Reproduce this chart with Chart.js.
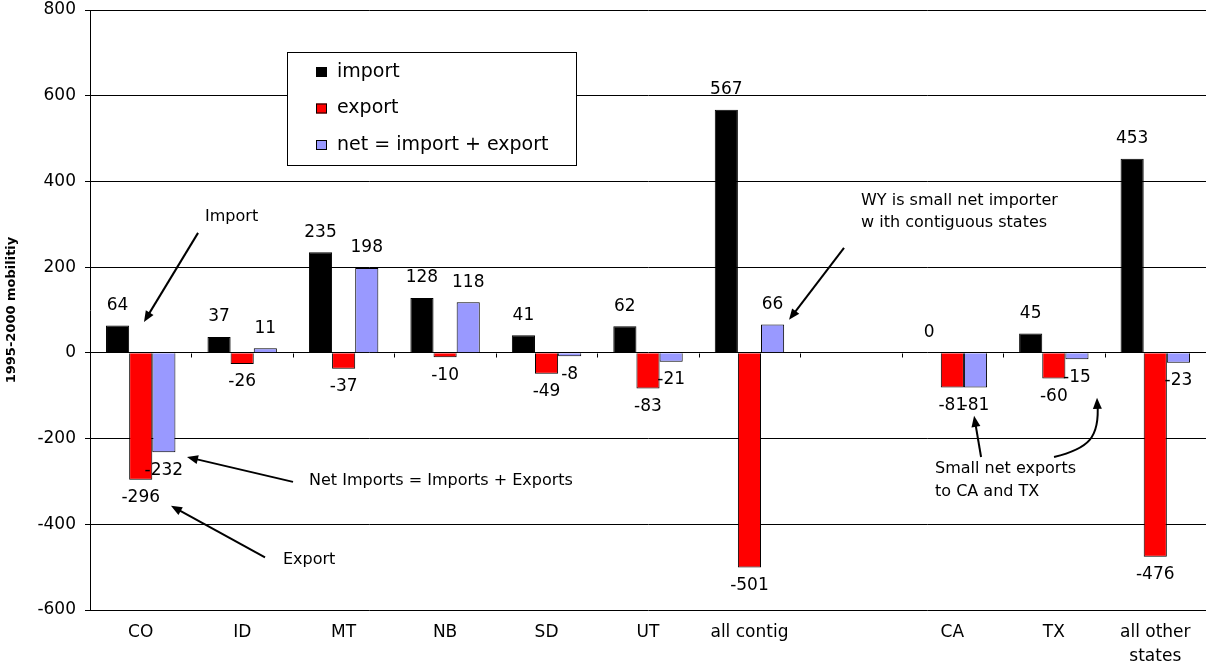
<!DOCTYPE html>
<html>
<head>
<meta charset="utf-8">
<script src="https://cdn.jsdelivr.net/npm/chart.js@4"></script>
<style>
  html, body { margin: 0; padding: 0; background: #fff; }
</style>
</head>
<body>
<canvas id="myChart" width="1207" height="669"></canvas>
<script>
// WY migration 1995-2000, by partner state
const categories = ['CO', 'ID', 'MT', 'NB', 'SD', 'UT', 'all contig', '', 'CA', 'TX', ['all other', 'states']];
const importVals = [64, 37, 235, 128, 41, 62, 567, null, 0, 45, 453];
const exportVals = [-296, -26, -37, -10, -49, -83, -501, null, -81, -60, -476];
const netVals = [-232, 11, 198, 118, -8, -21, 66, null, -81, -15, -23];
const seriesNames = ['import', 'export', 'net = import + export'];
const seriesColors = ['#000000', '#FF0000', '#9999FF'];
const yMin = -600, yMax = 800, yStep = 200;

const FONT = '"DejaVu Sans", sans-serif';
Chart.defaults.font.family = FONT;
Chart.defaults.color = '#000';

function head(ctx, x, y, a) {
  ctx.beginPath();
  ctx.moveTo(x, y);
  ctx.lineTo(x - 11 * Math.cos(a) + 4.5 * Math.sin(a), y - 11 * Math.sin(a) - 4.5 * Math.cos(a));
  ctx.lineTo(x - 11 * Math.cos(a) - 4.5 * Math.sin(a), y - 11 * Math.sin(a) + 4.5 * Math.cos(a));
  ctx.closePath();
  ctx.fill();
}

function arrow(ctx, x1, y1, x2, y2) {
  const a = Math.atan2(y2 - y1, x2 - x1);
  ctx.beginPath();
  ctx.moveTo(x1, y1);
  ctx.lineTo(x2 - 6 * Math.cos(a), y2 - 6 * Math.sin(a));
  ctx.stroke();
  head(ctx, x2, y2, a);
}

const annotate = {
  id: 'annotate',
  afterDatasetsDraw(chart) {
    const ctx = chart.ctx;
    const area = chart.chartArea;
    const ys = chart.scales.y;
    const catW = (area.right - area.left) / categories.length;
    const px = i => area.left + (i + 0.5) * catW;
    const py = v => ys.getPixelForValue(v);

    ctx.save();
    ctx.fillStyle = '#000';
    ctx.strokeStyle = '#000';

    // small ticks under the zero line between categories
    ctx.lineWidth = 1;
    const y0 = Math.round(py(0)) + 0.5;
    for (let k = 1; k < categories.length; k++) {
      const x = Math.round(area.left + k * catW) + 0.5;
      ctx.beginPath();
      ctx.moveTo(x, y0);
      ctx.lineTo(x, y0 + 4);
      ctx.stroke();
    }

    // value labels
    ctx.font = '17px ' + FONT;
    ctx.textAlign = 'center';
    ctx.textBaseline = 'middle';
    chart.data.datasets.forEach((ds, d) => {
      chart.getDatasetMeta(d).data.forEach((bar, k) => {
        const v = ds.data[k];
        if (v === null) return;
        ctx.fillText(String(v), bar.x, v >= 0 ? bar.y - 20 : bar.y + 18);
      });
    });

    // legend box
    const lx = 287, ly = 52, lw = 289, lh = 113;
    ctx.fillStyle = '#fff';
    ctx.fillRect(lx, ly, lw, lh);
    ctx.strokeRect(lx + 0.5, ly + 0.5, lw, lh);
    ctx.font = '19px ' + FONT;
    ctx.textAlign = 'left';
    seriesNames.forEach((name, i) => {
      const ry = 72 + i * 36.5;
      ctx.fillStyle = seriesColors[i];
      ctx.fillRect(316, ry - 5, 11, 10);
      ctx.strokeRect(316.5, ry - 4.5, 10, 9);
      ctx.fillStyle = '#000';
      ctx.fillText(name, 337, ry);
    });

    // notes and arrows
    ctx.font = '16px ' + FONT;
    ctx.lineWidth = 2;
    ctx.fillText('Import', px(0.634), py(318));
    arrow(ctx, px(0.565), py(280), px(0.032), py(72));

    ctx.fillText('Net Imports = Imports + Exports', px(1.659), py(-299));
    arrow(ctx, px(1.501), py(-301), px(0.456), py(-243));

    ctx.fillText('Export', px(1.402), py(-484));
    arrow(ctx, px(1.225), py(-477), px(0.298), py(-357));

    ctx.fillText('WY is small net importer', px(7.1), py(355));
    ctx.fillText('w ith contiguous states', px(7.1), py(304));
    arrow(ctx, px(6.932), py(245), px(6.39), py(77));

    ctx.fillText('Small net exports', px(7.829), py(-271));
    ctx.fillText('to CA and TX', px(7.829), py(-325));
    arrow(ctx, px(8.283), py(-243), px(8.214), py(-147));

    // curved pointer to TX net bar
    ctx.beginPath();
    ctx.moveTo(px(9.002), py(-243));
    ctx.bezierCurveTo(px(9.337), py(-224), px(9.456), py(-199), px(9.43), py(-118));
    ctx.stroke();
    head(ctx, px(9.426), py(-105), -Math.PI / 2 - 0.03);

    ctx.restore();
  }
};

new Chart(document.getElementById('myChart'), {
  type: 'bar',
  data: {
    labels: categories,
    datasets: [
      { label: seriesNames[0], data: importVals, backgroundColor: seriesColors[0], borderColor: '#000', borderWidth: 1 },
      { label: seriesNames[1], data: exportVals, backgroundColor: seriesColors[1], borderColor: '#000', borderWidth: 1 },
      { label: seriesNames[2], data: netVals, backgroundColor: seriesColors[2], borderColor: '#000', borderWidth: 1 }
    ]
  },
  options: {
    responsive: false,
    animation: false,
    categoryPercentage: 0.684,
    barPercentage: 1,
    layout: { padding: { top: 10, right: 1, left: 0, bottom: 0 } },
    plugins: { legend: { display: false }, tooltip: { enabled: false } },
    scales: {
      x: {
        grid: { display: false, drawTicks: false },
        border: { display: false },
        ticks: { font: { size: 17, lineHeight: 1.4 }, padding: 11, maxRotation: 0, autoSkip: false },
        afterFit(scale) { scale.height = 59; scale.paddingLeft = 0; scale.paddingRight = 0; }
      },
      y: {
        min: yMin,
        max: yMax,
        ticks: { stepSize: yStep, font: { size: 17 }, padding: 9 },
        grid: { color: '#000', lineWidth: 1, tickLength: 5, tickColor: '#000' },
        border: { display: true, color: '#000', width: 1 },
        title: { display: true, text: '1995-2000 mobilitiy', font: { size: 13, weight: 'bold' }, padding: { top: 4, bottom: 0 } },
        afterFit(scale) { scale.width = 90; scale.paddingTop = 0; scale.paddingBottom = 0; }
      }
    }
  },
  plugins: [annotate]
});
</script>
</body>
</html>
